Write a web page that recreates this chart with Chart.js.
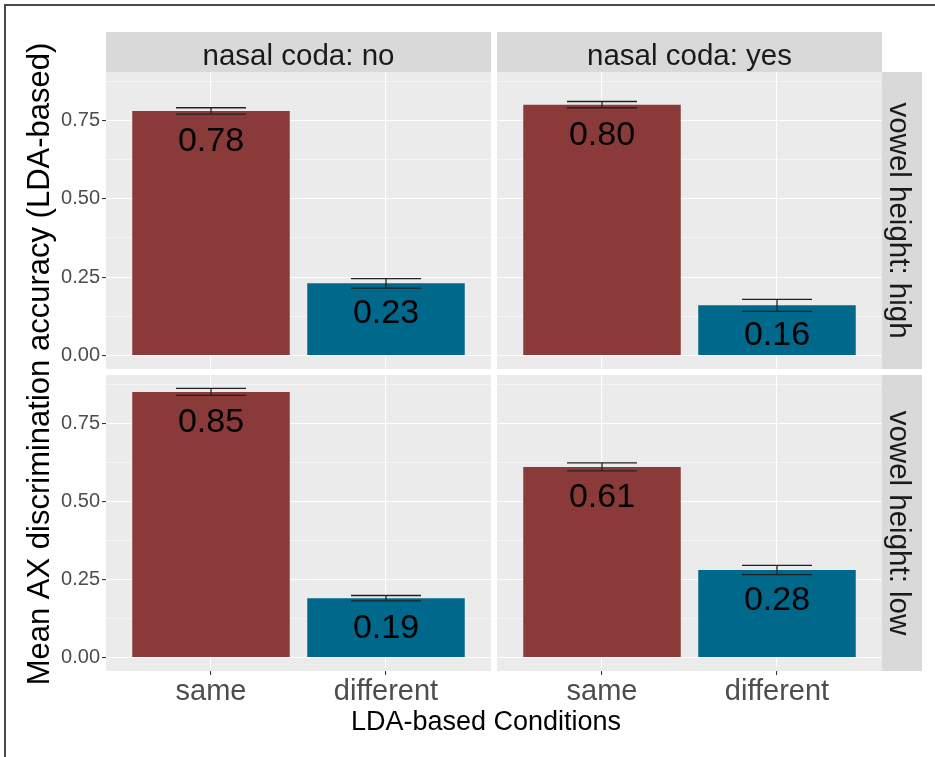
<!DOCTYPE html>
<html>
<head>
<meta charset="utf-8">
<title>Mean AX discrimination accuracy</title>
<script src="https://cdn.jsdelivr.net/npm/chart.js@4.4.1/dist/chart.umd.min.js"></script>
<style>
  html, body { margin: 0; padding: 0; background: #ffffff; }
  #page { position: relative; width: 935px; height: 757px; overflow: hidden; background: #ffffff; }
  #page canvas { position: absolute; left: 0; top: 0; }
  #frame { position: absolute; left: 4px; top: 4px; width: 960px; height: 780px;
           border-top: 2px solid #4a4a4a; border-left: 2px solid #4a4a4a; }
</style>
</head>
<body>
<div id="page">
  <div id="frame"></div>
  <canvas id="highNo" width="935" height="757"></canvas>
  <canvas id="highYes" width="935" height="757"></canvas>
  <canvas id="lowNo" width="935" height="757"></canvas>
  <canvas id="lowYes" width="935" height="757"></canvas>
</div>
<script>
// ---- data ----
const CATEGORIES = ['same', 'different'];
const CODA_LEVELS = ['nasal coda: no', 'nasal coda: yes'];
const HEIGHT_LEVELS = ['vowel height: high', 'vowel height: low'];

// mean accuracy, [same, different]
const HIGH_NO  = [0.78, 0.23];
const HIGH_YES = [0.80, 0.16];
const LOW_NO   = [0.85, 0.19];
const LOW_YES  = [0.61, 0.28];

// standard error of each mean
const HIGH_NO_SE  = [0.010, 0.015];
const HIGH_YES_SE = [0.010, 0.019];
const LOW_NO_SE   = [0.011, 0.0085];
const LOW_YES_SE  = [0.013, 0.015];

const Y_TICKS = [0, 0.25, 0.5, 0.75];
const Y_TICK_LABELS = ['0.00', '0.25', '0.50', '0.75'];
const Y_MINOR = [0.125, 0.375, 0.625, 0.875];

const X_TITLE = 'LDA-based Conditions';
const Y_TITLE = 'Mean AX discrimination accuracy (LDA-based)';

// ---- look ----
const FONT = "'Liberation Sans', Arial, Helvetica, sans-serif";
const FILLS = ['#8B3A3A', '#00688B'];
const PANEL_BG = '#EBEBEB';
const STRIP_BG = '#D9D9D9';
const W = 935, H = 757;
const COL_X = [[106, 491], [497, 882]];
const ROW_Y = [[72, 369], [375, 671]];
const STRIP_TOP = 32, STRIP_RIGHT = 922;
const STRIP_FONT = 29.5;

// shared y range: 0 .. highest error bar, widened 5% each side
const allTops = [HIGH_NO, HIGH_YES, LOW_NO, LOW_YES].flatMap((vals, k) =>
  vals.map((v, i) => v + [HIGH_NO_SE, HIGH_YES_SE, LOW_NO_SE, LOW_YES_SE][k][i]));
const Y_HI = Math.max(...allTops);
const Y_MIN = -0.05 * Y_HI;
const Y_MAX = Y_HI * 1.05;

const isMajor = v => Y_TICKS.some(t => Math.abs(t - v) < 1e-9);

// panel background, strips, error bars, value labels and page titles
const facetPlugin = {
  id: 'facet',
  beforeDraw(chart) {
    const { ctx, chartArea: a } = chart;
    ctx.save();
    ctx.fillStyle = PANEL_BG;
    ctx.fillRect(a.left, a.top, a.right - a.left, a.bottom - a.top);
    ctx.restore();
  },
  afterDatasetsDraw(chart, args, opts) {
    const { ctx } = chart;
    const xs = chart.scales.x, ys = chart.scales.y;
    ctx.save();
    opts.values.forEach((v, i) => {
      const cx = xs.getPixelForValue(i + 1);
      const hw = xs.getPixelForValue(i + 1.2) - cx;
      const yt = ys.getPixelForValue(v + opts.se[i]);
      const yb = ys.getPixelForValue(v - opts.se[i]);
      ctx.strokeStyle = '#222222';
      ctx.lineWidth = 1.3;
      ctx.beginPath();
      ctx.moveTo(cx - hw, yt); ctx.lineTo(cx + hw, yt);
      ctx.moveTo(cx, yt); ctx.lineTo(cx, yb);
      ctx.moveTo(cx - hw, yb); ctx.lineTo(cx + hw, yb);
      ctx.stroke();

      ctx.fillStyle = '#000000';
      ctx.font = '34px ' + FONT;
      ctx.textAlign = 'center';
      ctx.textBaseline = 'alphabetic';
      ctx.fillText(v.toFixed(2), cx, ys.getPixelForValue(v) + 40);
    });
    ctx.restore();
  },
  afterDraw(chart, args, opts) {
    const { ctx, chartArea: a } = chart;
    ctx.save();
    ctx.font = STRIP_FONT + 'px ' + FONT;
    ctx.textAlign = 'center';
    ctx.textBaseline = 'alphabetic';
    if (opts.topStrip) {
      ctx.fillStyle = STRIP_BG;
      ctx.fillRect(a.left, STRIP_TOP, a.right - a.left, a.top - STRIP_TOP);
      ctx.fillStyle = '#1A1A1A';
      ctx.fillText(opts.topStrip, (a.left + a.right) / 2, a.top - 7.5);
    }
    if (opts.rightStrip) {
      ctx.fillStyle = STRIP_BG;
      ctx.fillRect(a.right, a.top, STRIP_RIGHT - a.right, a.bottom - a.top);
      ctx.fillStyle = '#1A1A1A';
      ctx.translate((a.right + STRIP_RIGHT) / 2 - 12.3, (a.top + a.bottom) / 2);
      ctx.rotate(Math.PI / 2);
      ctx.fillText(opts.rightStrip, 0, 0);
    }
    ctx.restore();

    if (opts.titles) {
      ctx.save();
      ctx.fillStyle = '#000000';
      ctx.textAlign = 'center';
      ctx.textBaseline = 'alphabetic';
      ctx.font = '27px ' + FONT;
      ctx.fillText(X_TITLE, 486, 730);
      ctx.font = '31px ' + FONT;
      ctx.translate(49, 364);
      ctx.rotate(-Math.PI / 2);
      ctx.fillText(Y_TITLE, 0, 0);
      ctx.restore();
    }
  }
};

function makePanel(id, row, col, values, se) {
  const showY = col === 0, showX = row === 1;
  const axW = showY ? 60 : 0, axH = showX ? 40 : 0;
  return new Chart(document.getElementById(id), {
    type: 'bar',
    data: {
      datasets: [{
        data: values.map((v, i) => ({ x: i + 1, y: v })),
        backgroundColor: FILLS,
        borderWidth: 0,
        categoryPercentage: 1,
        barPercentage: 0.9
      }]
    },
    options: {
      responsive: false,
      animation: false,
      devicePixelRatio: 1,
      events: [],
      layout: {
        padding: {
          left: COL_X[col][0] - axW,
          right: W - COL_X[col][1],
          top: ROW_Y[row][0],
          bottom: H - ROW_Y[row][1] - axH
        }
      },
      plugins: {
        legend: { display: false },
        tooltip: { enabled: false },
        facet: {
          values, se,
          topStrip: row === 0 ? CODA_LEVELS[col] : null,
          rightStrip: col === 1 ? HEIGHT_LEVELS[row] : null,
          titles: row === 1 && col === 0
        }
      },
      scales: {
        x: {
          type: 'linear', min: 0.4, max: 2.6, offset: false,
          afterBuildTicks: s => { s.ticks = CATEGORIES.map((_, i) => ({ value: i + 1 })); },
          afterFit: s => { s.height = axH; },
          border: { display: false },
          grid: { offset: false, color: '#FFFFFF', lineWidth: 1.07,
                  drawTicks: showX, tickLength: 4, tickColor: '#333333', tickWidth: 1.07 },
          ticks: { display: showX, autoSkip: false, maxRotation: 0, padding: 0,
                   color: '#4D4D4D', font: { family: FONT, size: 29 },
                   callback: v => CATEGORIES[Math.round(v) - 1] }
        },
        y: {
          type: 'linear', min: Y_MIN, max: Y_MAX,
          afterBuildTicks: s => {
            s.ticks = [...Y_TICKS, ...Y_MINOR].sort((a, b) => a - b).map(v => ({ value: v }));
          },
          afterFit: s => { s.width = axW; },
          border: { display: false },
          grid: {
            color: '#FFFFFF',
            lineWidth: c => isMajor(c.tick.value) ? 1.07 : 0.53,
            drawTicks: showY, tickLength: 4, tickWidth: 1.07,
            tickColor: c => isMajor(c.tick.value) ? '#333333' : 'rgba(0,0,0,0)'
          },
          ticks: {
            display: showY, autoSkip: false, padding: 2,
            color: '#4D4D4D', font: { family: FONT, size: 20 },
            callback: v => {
              const k = Y_TICKS.findIndex(t => Math.abs(t - v) < 1e-9);
              return k >= 0 ? Y_TICK_LABELS[k] : '';
            }
          }
        }
      }
    },
    plugins: [facetPlugin]
  });
}

makePanel('highNo', 0, 0, HIGH_NO, HIGH_NO_SE);
makePanel('highYes', 0, 1, HIGH_YES, HIGH_YES_SE);
makePanel('lowNo', 1, 0, LOW_NO, LOW_NO_SE);
makePanel('lowYes', 1, 1, LOW_YES, LOW_YES_SE);
</script>
</body>
</html>
